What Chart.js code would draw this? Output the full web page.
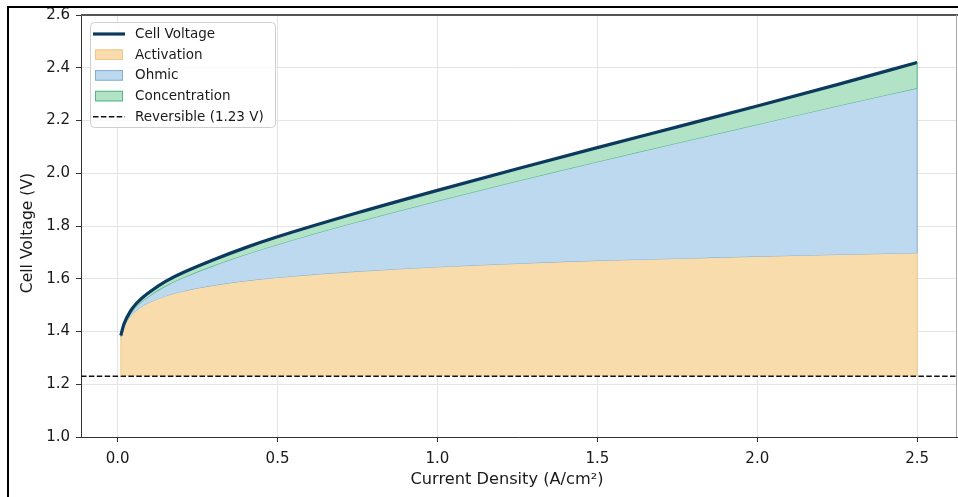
<!DOCTYPE html>
<html><head><meta charset="utf-8">
<script src="https://cdn.jsdelivr.net/npm/chart.js@4/dist/chart.umd.min.js"></script>
<style>html,body{margin:0;padding:0;background:#fff;overflow:hidden}#wrap{width:958px;height:497px}</style>
</head><body><div id="wrap"><canvas id="c" width="958" height="497"></canvas></div>
<script>
// ---- data ----
const currentDensity = [0.01,0.02,0.04,0.06,0.08,0.1,0.15,0.2,0.3,0.4,0.5,0.75,1.0,1.25,1.5,1.75,2.0,2.25,2.5];
const activationTop  = [1.378,1.418,1.458,1.482,1.498,1.511,1.535,1.552,1.575,1.592,1.605,1.628,1.645,1.658,1.669,1.677,1.685,1.692,1.698];
const ohmicTop       = [1.381,1.423,1.468,1.497,1.518,1.536,1.573,1.602,1.650,1.692,1.730,1.816,1.895,1.971,2.044,2.115,2.185,2.255,2.323];
const cellVoltage    = [1.385,1.429,1.477,1.508,1.531,1.550,1.590,1.621,1.672,1.718,1.759,1.850,1.935,2.017,2.097,2.176,2.255,2.336,2.420];
const reversibleVoltage = 1.23;
const xTicks = [0.0,0.5,1.0,1.5,2.0,2.5];
const yTicks = [1.0,1.2,1.4,1.6,1.8,2.0,2.2,2.4,2.6];
const xLimits = [-0.1145, 2.6245];
const yLimits = [1.0, 2.6];
const labels = ['Cell Voltage','Activation','Ohmic','Concentration','Reversible (1.23 V)'];
const xTitle = 'Current Density (A/cm²)';
const yTitle = 'Cell Voltage (V)';

const FONT = "'DejaVu Sans', sans-serif";
const pts = arr => currentDensity.map((x,i)=>({x, y: arr[i]}));

const colors = {
  cell: '#0c3a5e',
  actFill: '#f9dcab', actEdge: '#f0c68a',
  ohmFill: '#bcd9f0', ohmEdge: '#86aed0',
  conFill: '#b3e3c6', conEdge: '#55b585'
};

const decorPlugin = {
  id: 'decor',
  afterDatasetsDraw(chart) {
    const {ctx, scales:{x, y}} = chart;
    const n = currentDensity.length - 1;
    const px = x.getPixelForValue(currentDensity[n]);
    const segs = [
      [reversibleVoltage, activationTop[n], colors.actEdge],
      [activationTop[n], ohmicTop[n], colors.ohmEdge],
      [ohmicTop[n], cellVoltage[n], colors.conEdge]
    ];
    ctx.save();
    ctx.lineWidth = 1;
    segs.forEach(([a,b,c]) => {
      ctx.strokeStyle = c;
      ctx.beginPath();
      ctx.moveTo(px, y.getPixelForValue(a));
      ctx.lineTo(px, y.getPixelForValue(b));
      ctx.stroke();
    });
    const p0 = x.getPixelForValue(currentDensity[0]);
    ctx.strokeStyle = colors.actEdge;
    ctx.beginPath();
    ctx.moveTo(p0, y.getPixelForValue(reversibleVoltage));
    ctx.lineTo(p0, y.getPixelForValue(activationTop[0]));
    ctx.stroke();
    ctx.restore();
  },
  afterDraw(chart) {
    const {ctx, chartArea:ca} = chart;
    ctx.save();
    // axis titles
    ctx.fillStyle = '#1a1a1a';
    ctx.font = "16.2px " + FONT;
    ctx.textAlign = 'center'; ctx.textBaseline = 'middle';
    ctx.fillText(xTitle, 507, 480);
    ctx.save();
    ctx.translate(28, 233); ctx.rotate(-Math.PI/2);
    ctx.font = "15.6px " + FONT;
    ctx.fillText(yTitle, 0, 0);
    ctx.restore();
    // spines
    ctx.strokeStyle = '#555'; ctx.lineWidth = 2;
    ctx.beginPath(); ctx.moveTo(ca.left, ca.top); ctx.lineTo(958, ca.top); ctx.stroke();
    ctx.strokeStyle = '#aaa'; ctx.lineWidth = 1;
    ctx.beginPath(); ctx.moveTo(ca.right-0.5, ca.top); ctx.lineTo(ca.right-0.5, ca.bottom); ctx.stroke();
    // outer frame
    ctx.strokeStyle = '#000'; ctx.lineWidth = 2;
    ctx.beginPath(); ctx.moveTo(8, 497); ctx.lineTo(8, 7); ctx.lineTo(958, 7); ctx.stroke();

    // legend
    const x0 = 90.5, y0 = 22.5, w = 185, h = 105, r = 4;
    ctx.beginPath();
    ctx.moveTo(x0+r, y0); ctx.lineTo(x0+w-r, y0); ctx.quadraticCurveTo(x0+w, y0, x0+w, y0+r);
    ctx.lineTo(x0+w, y0+h-r); ctx.quadraticCurveTo(x0+w, y0+h, x0+w-r, y0+h);
    ctx.lineTo(x0+r, y0+h); ctx.quadraticCurveTo(x0, y0+h, x0, y0+h-r);
    ctx.lineTo(x0, y0+r); ctx.quadraticCurveTo(x0, y0, x0+r, y0);
    ctx.closePath();
    ctx.fillStyle = 'rgba(255,255,255,0.85)'; ctx.fill();
    ctx.strokeStyle = '#cfcfcf'; ctx.lineWidth = 1; ctx.stroke();

    ctx.font = "13.5px " + FONT;
    ctx.textBaseline = 'middle';
    ctx.textAlign = 'left';
    chart.data.datasets.forEach((ds, i) => {
      const cy = 34 + i * 20.7;
      if (ds.legendType === 'patch') {
        ctx.fillStyle = ds.backgroundColor;
        ctx.fillRect(95, cy - 5.3, 28, 10.6);
        ctx.strokeStyle = ds.legendEdge; ctx.lineWidth = 1;
        ctx.strokeRect(95.5, cy - 4.8, 27, 9.6);
      } else {
        ctx.strokeStyle = ds.borderColor;
        ctx.lineWidth = ds.borderWidth;
        ctx.setLineDash(ds.borderDash || []);
        ctx.beginPath(); ctx.moveTo(93, cy); ctx.lineTo(125, cy); ctx.stroke();
        ctx.setLineDash([]);
      }
      ctx.fillStyle = '#1a1a1a';
      ctx.fillText(ds.label, 135, cy + 0.5);
    });
    ctx.restore();
  }
};

new Chart(document.getElementById('c'), {
  type: 'line',
  data: {
    datasets: [
      { label: labels[0], data: pts(cellVoltage), borderColor: colors.cell, borderWidth: 3.2,
        pointRadius: 0, fill: false, cubicInterpolationMode: 'monotone', order: 0, legendType: 'line' },
      { label: labels[1], data: pts(activationTop), borderColor: colors.ohmEdge, borderWidth: 1,
        backgroundColor: colors.actFill, legendEdge: colors.actEdge,
        pointRadius: 0, fill: {value: reversibleVoltage}, cubicInterpolationMode: 'monotone', order: 3, legendType: 'patch' },
      { label: labels[2], data: pts(ohmicTop), borderColor: colors.conEdge, borderWidth: 1.2,
        backgroundColor: colors.ohmFill, legendEdge: colors.ohmEdge,
        pointRadius: 0, fill: 1, cubicInterpolationMode: 'monotone', order: 2, legendType: 'patch' },
      { label: labels[3], data: pts(cellVoltage), borderColor: colors.conEdge, borderWidth: 1,
        backgroundColor: colors.conFill, legendEdge: colors.conEdge,
        pointRadius: 0, fill: 2, cubicInterpolationMode: 'monotone', order: 1, legendType: 'patch' },
      { label: labels[4], data: [{x: xLimits[0], y: reversibleVoltage}, {x: xLimits[1], y: reversibleVoltage}],
        borderColor: '#111', borderWidth: 1.5, borderDash: [5.5, 2.4],
        pointRadius: 0, fill: false, order: -1, legendType: 'line' }
    ]
  },
  options: {
    responsive: false,
    animation: false,
    devicePixelRatio: 1,
    layout: { padding: { top: 15, right: 1, left: 0, bottom: 0 } },
    plugins: { legend: { display: false }, tooltip: { enabled: false } },
    scales: {
      x: {
        type: 'linear', min: xLimits[0], max: xLimits[1],
        afterBuildTicks: s => { s.ticks = xTicks.map(v => ({value: v})); },
        afterFit: s => { s.height = 60; },
        grid: { color: '#e4e4e4', lineWidth: 1, tickColor: '#333', tickLength: 5, tickWidth: 1 },
        border: { display: true, color: '#333', width: 1 },
        ticks: { font: { family: FONT, size: 15 }, color: '#1a1a1a', padding: 8,
                 callback: v => Number(v).toFixed(1), maxRotation: 0 },
        title: { display: false }
      },
      y: {
        type: 'linear', min: yLimits[0], max: yLimits[1],
        afterBuildTicks: s => { s.ticks = yTicks.map(v => ({value: v})); },
        afterFit: s => { s.width = 81; },
        grid: { color: '#e4e4e4', lineWidth: 1, tickColor: '#333', tickLength: 5, tickWidth: 1 },
        border: { display: true, color: '#333', width: 1 },
        ticks: { font: { family: FONT, size: 15 }, color: '#1a1a1a', padding: 6,
                 callback: v => Number(v).toFixed(1) },
        title: { display: false }
      }
    }
  },
  plugins: [decorPlugin]
});
</script>
</body></html>
